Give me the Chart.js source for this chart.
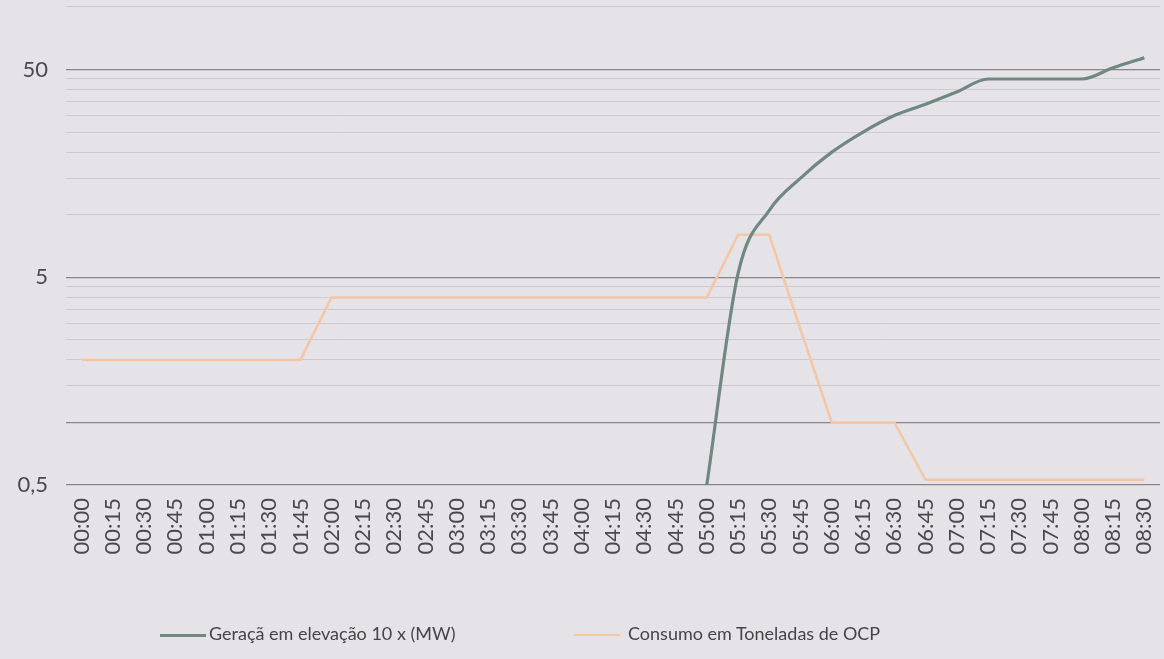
<!DOCTYPE html>
<html>
<head>
<meta charset="utf-8">
<script src="https://cdn.jsdelivr.net/npm/chart.js@4"></script>
<style>
  html, body { margin: 0; padding: 0; background: #e5e3e8; }
  #wrap { position: relative; width: 1164px; height: 659px; }
  .legend { position: absolute; top: 622px; font-family: Lato, sans-serif; font-size: 18px; color: #454545; white-space: nowrap; }
  .legend span.swatch { display: inline-block; width: 46px; height: 0; vertical-align: middle; margin-right: 3px; }
</style>
</head>
<body>
<div id="wrap">
  <canvas id="chart"></canvas>
  <div class="legend" style="left:160px"><span class="swatch" style="border-top:3px solid #6f8880"></span>Geraçã em elevação 10 x (MW)</div>
  <div class="legend" style="left:574px"><span class="swatch" style="border-top:2px solid #f3c6a5; margin-right:8px"></span>Consumo em Toneladas de OCP</div>
</div>
<script>
const labels = ['00:00', '00:15', '00:30', '00:45', '01:00', '01:15', '01:30', '01:45',
  '02:00', '02:15', '02:30', '02:45', '03:00', '03:15', '03:30', '03:45',
  '04:00', '04:15', '04:30', '04:45', '05:00', '05:15', '05:30', '05:45',
  '06:00', '06:15', '06:30', '06:45', '07:00', '07:15', '07:30', '07:45',
  '08:00', '08:15', '08:30'];

// geração (x10 MW) - nothing before 05:00
const geracao = [null, null, null, null, null, null, null, null,
  null, null, null, null, null, null, null, null,
  null, null, null, null, 0.5, 5.2, 10.5, 15,
  20, 25, 30, 34, 39, 45, 45, 45,
  45, 51, 57];

// consumo em toneladas de OCP
const consumo = [2, 2, 2, 2, 2, 2, 2, 2,
  4, 4, 4, 4, 4, 4, 4, 4,
  4, 4, 4, 4, 4, 8, 8, 2.8,
  1, 1, 1, 0.53, 0.53, 0.53, 0.53, 0.53,
  0.53, 0.53, 0.53];

// log axis gridlines like excel
const yTicks = [0.5, 1, 1.5, 2, 2.5, 3, 3.5, 4, 4.5,
  5, 10, 15, 20, 25, 30, 35, 40, 45, 50, 100];
const yLabels = { 0.5: '0,5', 5: '5', 50: '50' };
const darkLines = [0.5, 1, 5, 50];

new Chart(document.getElementById('chart'), {
  type: 'line',
  data: {
    labels: labels,
    datasets: [{
      label: 'Geraçã em elevação 10 x (MW)',
      data: geracao,
      borderColor: '#6f8880',
      borderWidth: 3.2,
      pointRadius: 0,
      cubicInterpolationMode: 'monotone'
    }, {
      label: 'Consumo em Toneladas de OCP',
      data: consumo,
      borderColor: '#f3c6a5',
      borderWidth: 2.5,
      pointRadius: 0,
      tension: 0
    }]
  },
  options: {
    responsive: true,
    maintainAspectRatio: false,
    animation: false,
    layout: { padding: { top: 0, right: 4, bottom: 0, left: 0 } },
    plugins: { legend: { display: false }, tooltip: { enabled: false } },
    scales: {
      x: {
        offset: true,
        grid: { display: false },
        border: { display: false },
        ticks: {
          autoSkip: false,
          minRotation: 90,
          maxRotation: 90,
          padding: 5,
          color: '#4a4a4a',
          font: { family: 'Lato', size: 22 }
        },
        afterFit: scale => {
          scale.height = 659 - 485;
          scale.paddingLeft = 0;
          scale.paddingRight = 0;
        }
      },
      y: {
        type: 'logarithmic',
        min: 0.5,
        max: 108,
        border: { display: false },
        grid: {
          drawTicks: false,
          color: ctx => darkLines.includes(ctx.tick.value) ? 'rgba(105,100,108,0.75)' : 'rgba(165,160,170,0.38)',
          lineWidth: ctx => darkLines.includes(ctx.tick.value) ? 1.3 : 1
        },
        afterBuildTicks: scale => { scale.ticks = yTicks.map(v => ({ value: v })); },
        ticks: {
          autoSkip: false,
          padding: 18,
          color: '#4a4a4a',
          font: { family: 'Lato', size: 22 },
          callback: value => yLabels[value] || ''
        },
        afterFit: scale => {
          scale.width = 66;
          scale.paddingTop = 0;
          scale.paddingBottom = 0;
        }
      }
    }
  }
});
</script>
</body>
</html>
